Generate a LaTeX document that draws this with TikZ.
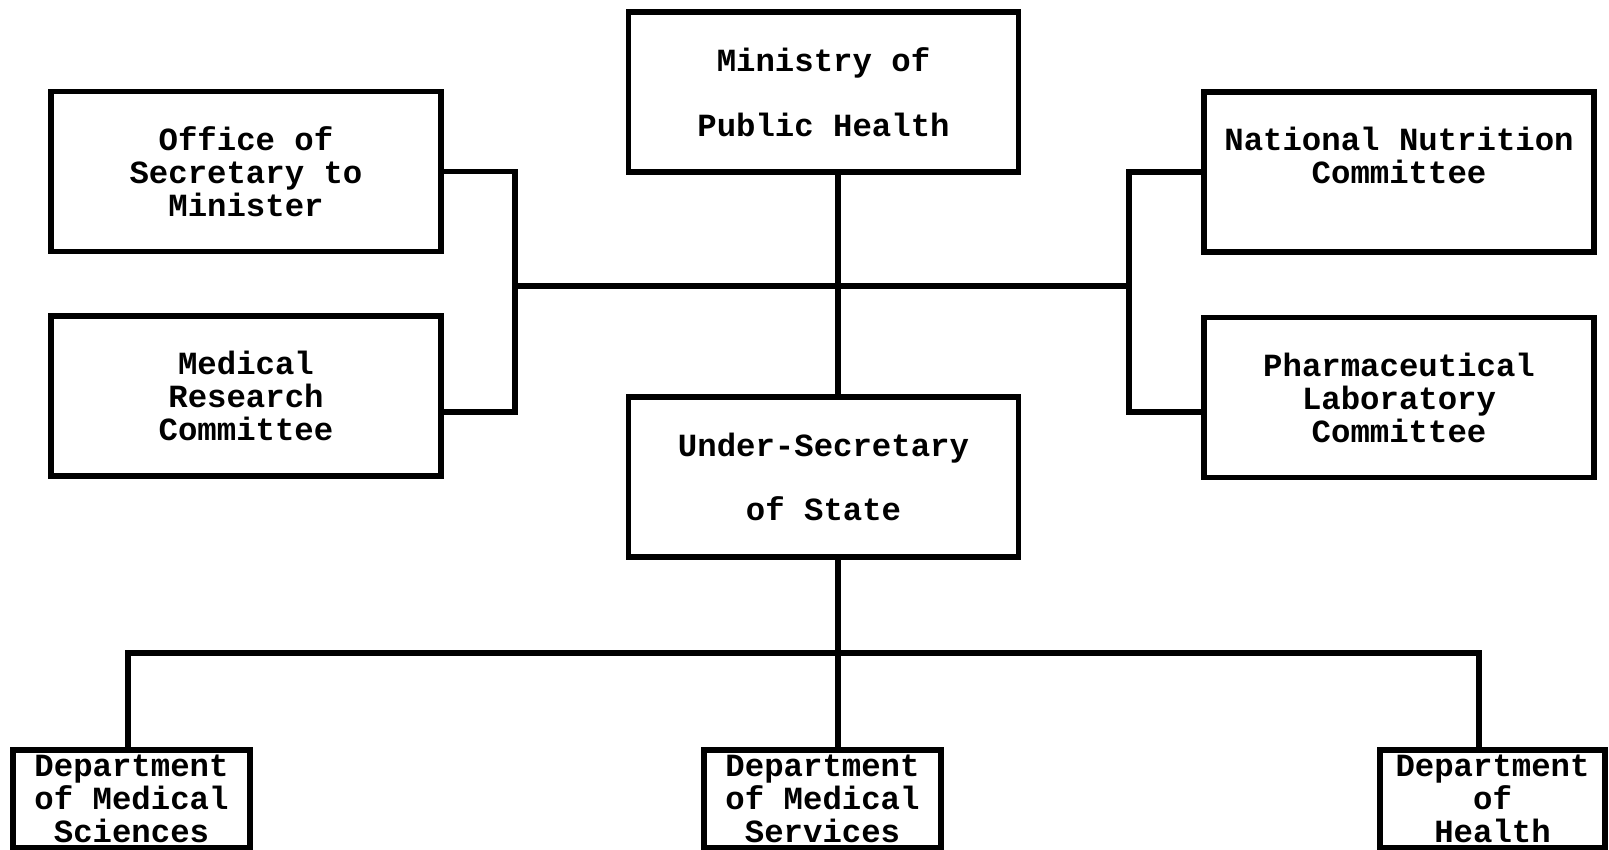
\documentclass[tikz,border=0pt]{standalone}
\usepackage{fontspec}
\setmainfont{Liberation Mono}
\usetikzlibrary{positioning}
\tikzset{
  orgbox/.style={
    draw, rectangle, line width=1.6pt, align=center, inner sep=0mm,
    minimum width=39mm, minimum height=16mm,
    font=\bfseries\fontsize{9.2}{9.4}\selectfont
  },
  deptbox/.style={
    orgbox, minimum width=23.7mm, minimum height=9.8mm
  },
  link/.style={
    line width=1.6pt
  }
}

\begin{document}
\begin{tikzpicture}
   \useasboundingbox (0, 0) rectangle (16.09, 8.5);

   \node[orgbox] (ministry) at (8.235, 7.58) {Ministry of\\[9pt]Public Health};
   \node[orgbox] (office) at (2.46, 6.785) {Office of\\Secretary to\\Minister};
   \node[orgbox] (research) at (2.46, 4.54) {Medical\\Research\\Committee};
   \node[orgbox] (nutrition) at (13.99, 6.78) {National Nutrition\\Committee\\ };
   \node[orgbox] (pharma) at (13.99, 4.525) {Pharmaceutical\\Laboratory\\Committee};
   \node[orgbox] (undersec) at (8.235, 3.73) {Under-Secretary\\[9pt]of State};

   \node[deptbox] (sciences) at (1.315, 0.51) {Department\\of Medical\\Sciences};
   \node[deptbox] (services) at (8.225, 0.51) {Department\\of Medical\\Services};
   \node[deptbox, minimum width=22.5mm] (health) at (14.925, 0.51) {Department\\of\\Health};

   \coordinate (barL) at (5.15, 5.64);
   \coordinate (barR) at (11.29, 5.64);
   \coordinate (spine) at (8.38, 5.64);
   \coordinate (busL) at (1.28, 1.97);
   \coordinate (busR) at (14.79, 1.97);

   \draw[link] (office.east) -| (barL) |- ([yshift=-1.6mm]research.east);
   \draw[link] (nutrition.west) -| (barR) |- ([yshift=-1.45mm]pharma.west);
   \draw[link] (barL) -- (barR);
   \draw[link] (ministry.south -| spine) -- (undersec.north -| spine);
   \draw[link] (undersec.south -| spine) -- (services.north -| spine);
   \draw[link] (sciences.north -| busL) -- (busL) -- (busR) -- (health.north -| busR);
\end{tikzpicture}
\end{document}
